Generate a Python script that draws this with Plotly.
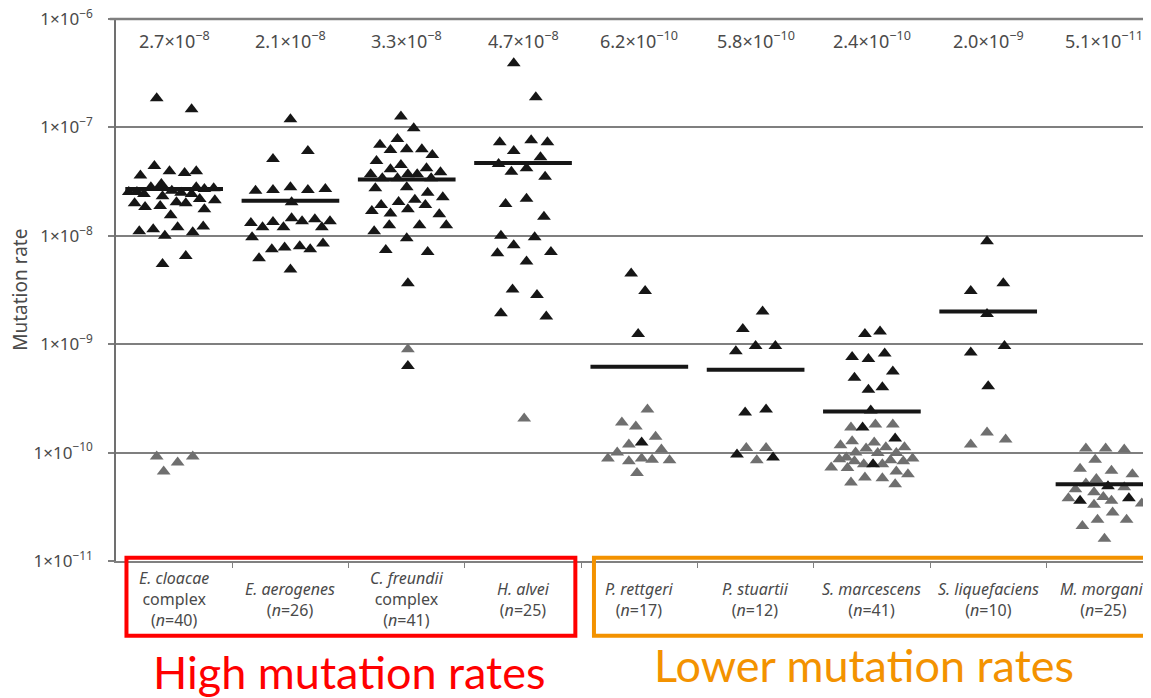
import plotly.graph_objects as go

# ---------------- data ----------------
categories = ["<i>E. cloacae</i><br>complex", "<i>E. aerogenes</i>", "<i>C. freundii</i><br>complex",
              "<i>H. alvei</i>", "<i>P. rettgeri</i>", "<i>P. stuartii</i>", "<i>S. marcescens</i>",
              "<i>S. liquefaciens</i>", "<i>M. morganii</i>"]
n_isolates = [40, 26, 41, 25, 17, 12, 41, 10, 25]
median_rates = [2.7e-8, 2.1e-8, 3.3e-8, 4.7e-8, 6.2e-10, 5.8e-10, 2.4e-10, 2.0e-9, 5.1e-11]
median_labels = ["2.7×10<sup>−8</sup>", "2.1×10<sup>−8</sup>", "3.3×10<sup>−8</sup>", "4.7×10<sup>−8</sup>",
                 "6.2×10<sup>−10</sup>", "5.8×10<sup>−10</sup>", "2.4×10<sup>−10</sup>", "2.0×10<sup>−9</sup>",
                 "5.1×10<sup>−11</sup>"]
y_tick_vals = [1e-11, 1e-10, 1e-9, 1e-8, 1e-7, 1e-6]
y_tick_text = ["1×10<sup>−11</sup>", "1×10<sup>−10</sup>", "1×10<sup>−9</sup>", "1×10<sup>−8</sup>",
               "1×10<sup>−7</sup>", "1×10<sup>−6</sup>"]

# per-species isolate rates (black = dark triangles, grey = light triangles) and their horizontal jitter
ecl_black = [1.86e-7, 1.47e-7, 3.6e-8, 4.4e-8, 3.95e-8, 3.8e-8, 3.95e-8, 2.53e-8, 2.53e-8, 2.81e-8, 3.0e-8,
             2.43e-8, 2.32e-8, 2.6e-8, 2.5e-8, 2.43e-8, 2.8e-8, 2.7e-8, 2.75e-8, 2.0e-8, 1.84e-8, 1.88e-8,
             2.04e-8, 2.0e-8, 2.18e-8, 2.13e-8, 1.55e-8, 1.76e-8, 1.1e-8, 1.15e-8, 1.0e-8, 1.2e-8, 1.08e-8,
             1.22e-8, 5.5e-9, 6.5e-9]
ecl_black_jit = [-0.15, 0.15, -0.29, -0.17, -0.04, 0.09, 0.19, -0.39, -0.32, -0.20, -0.11, -0.26, -0.10, -0.02,
                 0.06, 0.15, 0.19, 0.26, 0.34, -0.34, -0.25, -0.12, 0.02, 0.10, 0.22, 0.35, -0.03, 0.26, -0.30,
                 -0.18, -0.08, 0.03, 0.16, 0.25, -0.10, 0.10]
ecl_grey = [9.2e-11, 6.7e-11, 8.1e-11, 9.2e-11]
ecl_grey_jit = [-0.15, -0.09, 0.03, 0.16]

eae_black = [1.19e-7, 5.1e-8, 6.05e-8, 2.6e-8, 2.65e-8, 2.8e-8, 2.65e-8, 2.7e-8, 2.04e-8, 1.31e-8, 1.2e-8,
             1.34e-8, 1.2e-8, 1.45e-8, 1.36e-8, 1.42e-8, 1.2e-8, 1.36e-8, 9.7e-9, 7.5e-9, 7.8e-9, 8.0e-9,
             7.5e-9, 8.5e-9, 6.2e-9, 4.9e-9]
eae_black_jit = [0.0, -0.15, 0.15, -0.30, -0.15, 0.0, 0.15, 0.30, 0.01, -0.34, -0.24, -0.15, -0.06, 0.01, 0.10,
                 0.21, 0.27, 0.34, -0.33, -0.16, -0.05, 0.08, 0.17, 0.28, -0.27, 0.0]
eae_grey = []
eae_grey_jit = []

cfr_black = [1.26e-7, 9.8e-8, 7.8e-8, 6.9e-8, 6.2e-8, 6.3e-8, 6.3e-8, 5.55e-8, 4.9e-8, 4.1e-8, 4.5e-8, 4.2e-8,
             3.86e-8, 3.7e-8, 3.4e-8, 3.4e-8, 3.7e-8, 3.7e-8, 3.4e-8, 2.75e-8, 2.8e-8, 2.5e-8, 2.27e-8, 1.92e-8,
             2.05e-8, 2.15e-8, 1.92e-8, 1.69e-8, 1.61e-8, 1.76e-8, 1.58e-8, 1.25e-8, 1.25e-8, 1.25e-8, 1.1e-8,
             9.5e-9, 7.4e-9, 7.1e-9, 3.65e-9, 6.3e-10]
cfr_black_jit = [-0.05, 0.06, -0.08, -0.23, -0.14, 0.0, 0.13, 0.22, -0.26, -0.14, -0.05, 0.17, 0.29, -0.31,
                 -0.21, -0.08, 0.01, 0.09, 0.21, -0.27, 0.0, 0.18, 0.31, -0.22, -0.07, 0.07, 0.16, -0.30, -0.14,
                 0.01, 0.28, -0.15, 0.11, 0.34, -0.28, 0.0, -0.18, 0.18, 0.01, 0.01]
cfr_grey = [9.0e-10]
cfr_grey_jit = [0.01]

hal_black = [3.9e-7, 1.9e-7, 7.3e-8, 7.6e-8, 7.3e-8, 6.05e-8, 4.6e-8, 5.3e-8, 3.9e-8, 4.2e-8, 3.5e-8, 1.96e-8,
             2.2e-8, 1.5e-8, 1.0e-8, 9.7e-9, 8.2e-9, 6.9e-9, 7.1e-9, 5.8e-9, 3.2e-9, 2.85e-9, 1.93e-9, 1.8e-9]
hal_black_jit = [-0.08, 0.11, -0.20, 0.07, 0.21, -0.08, -0.21, 0.15, -0.10, 0.03, 0.19, -0.15, 0.03, 0.18,
                 -0.19, 0.10, -0.08, -0.22, 0.24, 0.03, -0.09, 0.12, -0.19, 0.20]
hal_grey = [2.06e-10]
hal_grey_jit = [0.01]

pre_black = [4.5e-9, 3.1e-9, 1.24e-9, 1.24e-10]
pre_black_jit = [-0.07, 0.05, -0.01, 0.02]
pre_grey = [2.5e-10, 1.9e-10, 1.74e-10, 1.4e-10, 1.19e-10, 1.0e-10, 1.07e-10, 8.8e-11, 8.3e-11, 8.8e-11,
            8.6e-11, 8.5e-11, 6.5e-11]
pre_grey_jit = [0.07, -0.15, -0.03, 0.14, -0.09, -0.19, 0.19, -0.27, -0.09, 0.02, 0.11, 0.26, -0.02]

pst_black = [2.0e-9, 1.38e-9, 9.6e-10, 9.6e-10, 8.6e-10, 2.34e-10, 2.5e-10, 9.6e-11, 9.0e-11]
pst_black_jit = [0.06, -0.11, 0.0, 0.17, -0.17, -0.09, 0.09, -0.16, 0.15]
pst_grey = [1.1e-10, 1.1e-10, 8.5e-11]
pst_grey_jit = [-0.08, 0.09, 0.01]

sma_black = [1.24e-9, 1.31e-9, 7.6e-10, 7.3e-10, 8.2e-10, 4.9e-10, 5.6e-10, 3.8e-10, 4.0e-10, 2.45e-10,
             1.7e-10, 1.35e-10, 7.8e-11]
sma_black_jit = [-0.06, 0.07, -0.17, -0.03, 0.11, -0.15, 0.18, -0.03, 0.09, -0.01, -0.08, 0.20, 0.01]
sma_grey = [1.7e-10, 1.82e-10, 1.82e-10, 1.17e-10, 1.27e-10, 1.24e-10, 1.12e-10, 1.0e-10, 1.09e-10, 1.12e-10,
            9.9e-11, 9.9e-11, 8.7e-11, 9.0e-11, 8.3e-11, 7.8e-11, 7.8e-11, 8.5e-11, 8.3e-11, 8.8e-11, 7.3e-11,
            7.2e-11, 6.7e-11, 6.3e-11, 5.3e-11, 5.9e-11, 5.8e-11, 5.1e-11]
sma_grey_jit = [-0.18, 0.03, 0.18, -0.27, -0.17, 0.02, 0.28, -0.14, -0.05, 0.12, 0.05, 0.21, -0.28, -0.22,
                -0.15, -0.07, 0.09, 0.16, 0.27, 0.35, -0.35, -0.21, 0.21, 0.31, -0.18, -0.06, 0.09, 0.20]

sli_black = [8.9e-9, 3.65e-9, 3.1e-9, 1.9e-9, 8.4e-10, 9.6e-10, 4.1e-10]
sli_black_jit = [-0.01, 0.13, -0.15, -0.01, -0.15, 0.14, 0.0]
sli_grey = [1.53e-10, 1.19e-10, 1.32e-10]
sli_grey_jit = [-0.01, -0.15, 0.15]

mmo_black = [4.9e-11, 3.6e-11, 3.8e-11]
mmo_black_jit = [0.03, -0.21, 0.21]
mmo_grey = [1.09e-10, 1.09e-10, 1.07e-10, 8.6e-11, 7.1e-11, 6.8e-11, 6.3e-11, 5.7e-11, 5.2e-11, 4.8e-11,
            4.6e-11, 4.3e-11, 3.9e-11, 3.8e-11, 3.6e-11, 3.4e-11, 3.3e-11, 2.8e-11, 2.4e-11, 2.4e-11,
            2.1e-11, 1.6e-11]
mmo_grey_jit = [-0.16, 0.01, 0.17, -0.08, -0.21, 0.06, 0.24, -0.07, -0.16, 0.17, -0.25, -0.09, -0.01, -0.31,
                0.06, 0.32, -0.09, 0.07, -0.06, 0.19, -0.19, 0.0]

black_sets = [(ecl_black, ecl_black_jit), (eae_black, eae_black_jit), (cfr_black, cfr_black_jit),
              (hal_black, hal_black_jit), (pre_black, pre_black_jit), (pst_black, pst_black_jit),
              (sma_black, sma_black_jit), (sli_black, sli_black_jit), (mmo_black, mmo_black_jit)]
grey_sets = [(ecl_grey, ecl_grey_jit), (eae_grey, eae_grey_jit), (cfr_grey, cfr_grey_jit),
             (hal_grey, hal_grey_jit), (pre_grey, pre_grey_jit), (pst_grey, pst_grey_jit),
             (sma_grey, sma_grey_jit), (sli_grey, sli_grey_jit), (mmo_grey, mmo_grey_jit)]

# ---------------- figure ----------------
TXT = "#4a4a4a"
FONT = "Noto Sans"
fig = go.Figure()

for i, (vals, jit) in enumerate(grey_sets):
    if vals:
        fig.add_trace(go.Scatter(x=[i + j for j in jit], y=vals, mode="markers",
                                 marker=dict(symbol="triangle-up", size=12, color="#6f6f6f", line=dict(width=0)),
                                 showlegend=False, hoverinfo="y"))
for i, (vals, jit) in enumerate(black_sets):
    fig.add_trace(go.Scatter(x=[i + j for j in jit], y=vals, mode="markers",
                             marker=dict(symbol="triangle-up", size=12, color="#161616", line=dict(width=0)),
                             showlegend=False, hoverinfo="y"))

for i, m in enumerate(median_rates):
    fig.add_trace(go.Scatter(x=[i - 0.42, i + 0.42], y=[m, m], mode="lines",
                             line=dict(color="#161616", width=4), showlegend=False, hoverinfo="skip"))

annotations = []
for i, lab in enumerate(median_labels):
    annotations.append(dict(x=i, y=0.961, xref="x", yref="paper", text=lab, showarrow=False,
                            font=dict(family=FONT, size=18, color=TXT), xanchor="center", yanchor="middle"))
for i, (cat, n) in enumerate(zip(categories, n_isolates)):
    annotations.append(dict(x=i, y=-0.071, xref="x", yref="paper", text=f"{cat}<br>(<i>n</i>={n})",
                            showarrow=False, font=dict(family=FONT, size=16, color=TXT),
                            xanchor="center", yanchor="middle"))
annotations.append(dict(x=-0.093, y=0.5, xref="paper", yref="paper", text="Mutation rate", textangle=-90,
                        showarrow=False, font=dict(family=FONT, size=19, color=TXT),
                        xanchor="center", yanchor="middle"))
annotations.append(dict(x=1.5, y=-0.205, xref="x", yref="paper", text="High mutation rates", showarrow=False,
                        font=dict(family="Lato", size=45, color="#ff0000"), xanchor="center", yanchor="middle"))
annotations.append(dict(x=5.93, y=-0.192, xref="x", yref="paper", text="Lower mutation rates", showarrow=False,
                        font=dict(family="Lato", size=45, color="#f39200"), xanchor="center", yanchor="middle"))

shapes = [
    # top frame line at the 1e-6 level (plotly omits a grid line on the range edge)
    dict(type="line", xref="paper", yref="paper", x0=-0.006, x1=1, y0=1, y1=1,
         line=dict(color="#7f7f7f", width=2.5)),
    dict(type="rect", xref="x", yref="paper", x0=-0.41, x1=3.45, y0=-0.138, y1=0.006,
         line=dict(color="#ff0000", width=4)),
    dict(type="rect", xref="x", yref="paper", x0=3.61, x1=8.6, y0=-0.138, y1=0.006,
         line=dict(color="#f39200", width=4)),
]

# the page body adds an 8px offset, so the figure is 8px smaller and margins 8px tighter
fig.update_layout(
    width=1143, height=690,
    margin=dict(l=108, r=0, t=11, b=137, autoexpand=False),
    paper_bgcolor="white", plot_bgcolor="white",
    annotations=annotations, shapes=shapes,
    xaxis=dict(range=[-0.5, 8.4], showgrid=False, zeroline=False, showticklabels=False, automargin=False,
               showline=True, linecolor="#808080", linewidth=2,
               tickvals=[i + 0.5 for i in range(8)], ticks="outside", ticklen=5, tickcolor="#808080"),
    yaxis=dict(type="log", range=[-11, -6], tickvals=y_tick_vals, ticktext=y_tick_text, automargin=False,
               showgrid=True, gridcolor="#7f7f7f", gridwidth=2, zeroline=False,
               showline=True, linecolor="#707070", linewidth=1.5, ticklabeloverflow="allow",
               ticks="outside", ticklen=6, tickcolor="#7f7f7f", tickwidth=1.5, ticklabelstandoff=12,
               tickfont=dict(family=FONT, size=17, color=TXT)),
)

fig.write_html("out.html")
